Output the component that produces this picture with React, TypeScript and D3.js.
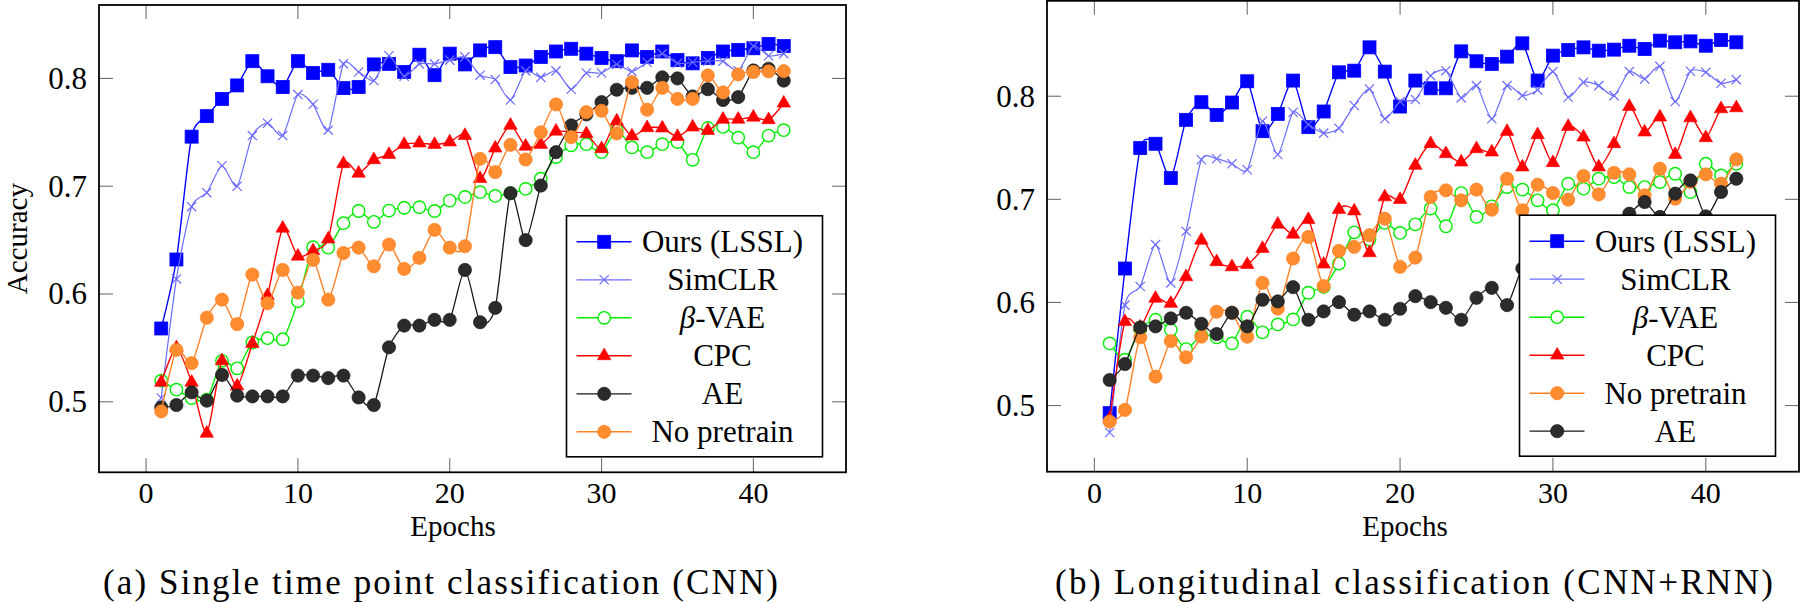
import React from "react";
import * as d3 from "d3";

// ---------- data ----------
const epochs = d3.range(1, 43);
const xTicks = [0, 10, 20, 30, 40];
const xTickLabels = ["0", "10", "20", "30", "40"];
const yTicks = [0.5, 0.6, 0.7, 0.8];
const yTickLabels = ["0.5", "0.6", "0.7", "0.8"];

// (a) Single time point classification (CNN)
const oursA = [0.568,0.632,0.746,0.765,0.781,0.7935,0.816,0.802,0.792,0.816,0.805,0.808,0.791,0.792,0.813,0.8135,0.806,0.822,0.803,0.823,0.813,0.826,0.829,0.8105,0.812,0.82,0.825,0.8275,0.823,0.819,0.816,0.826,0.82,0.825,0.817,0.814,0.819,0.825,0.8265,0.828,0.832,0.83];
const simclrA = [0.5035,0.614,0.681,0.694,0.719,0.70,0.747,0.7585,0.747,0.785,0.776,0.752,0.8135,0.806,0.798,0.821,0.802,0.8135,0.8135,0.817,0.82,0.803,0.799,0.780,0.807,0.801,0.807,0.790,0.805,0.805,0.813,0.8065,0.815,0.823,0.814,0.815,0.816,0.816,0.807,0.83,0.821,0.823];
const vaeA = [0.5196,0.5112,0.5035,0.502,0.538,0.531,0.555,0.559,0.558,0.5933,0.6434,0.643,0.6657,0.677,0.667,0.6774,0.68,0.6805,0.677,0.6867,0.69,0.6945,0.691,0.6935,0.6975,0.707,0.727,0.738,0.739,0.7316,0.752,0.736,0.7316,0.739,0.741,0.7245,0.754,0.755,0.745,0.7316,0.747,0.752];
const cpcA = [0.518,0.55,0.518,0.4707,0.538,0.5145,0.554,0.5985,0.661,0.635,0.64,0.651,0.7208,0.712,0.7245,0.7294,0.7387,0.74,0.7387,0.741,0.747,0.707,0.7353,0.7564,0.737,0.7387,0.751,0.75,0.7486,0.7347,0.7604,0.7465,0.7542,0.7539,0.746,0.7548,0.7517,0.762,0.762,0.764,0.7616,0.777];
const aeA = [0.4948,0.497,0.5088,0.501,0.5249,0.5057,0.505,0.505,0.505,0.5243,0.5243,0.522,0.5243,0.504,0.497,0.5505,0.5707,0.5707,0.576,0.576,0.6223,0.5738,0.5871,0.6935,0.65,0.7006,0.7316,0.7564,0.7666,0.778,0.7895,0.7913,0.7913,0.801,0.80,0.7833,0.79,0.78,0.7827,0.8074,0.809,0.798];
const noPretrainA = [0.4911,0.5482,0.5358,0.578,0.5948,0.572,0.618,0.5914,0.6223,0.6013,0.6316,0.5948,0.638,0.643,0.6257,0.6459,0.6233,0.6335,0.6595,0.643,0.6443,0.7254,0.713,0.7384,0.7248,0.75,0.7759,0.7455,0.7687,0.77,0.749,0.7966,0.771,0.7913,0.781,0.781,0.8028,0.787,0.8037,0.806,0.8065,0.8068];

// (b) Longitudinal classification (CNN+RNN)
const oursB = [0.4926,0.6329,0.7497,0.7539,0.7206,0.7771,0.7942,0.7819,0.7939,0.8145,0.7661,0.7829,0.8152,0.77,0.7852,0.8232,0.8248,0.8474,0.8239,0.79,0.8152,0.8077,0.8077,0.8435,0.8339,0.8313,0.8384,0.8513,0.8152,0.8394,0.8448,0.8474,0.8442,0.8452,0.849,0.8458,0.8539,0.8523,0.8532,0.849,0.8545,0.8523];
const simclrB = [0.4739,0.5974,0.6155,0.6561,0.619,0.669,0.7384,0.7394,0.7345,0.7287,0.7758,0.7435,0.7845,0.7726,0.7642,0.769,0.791,0.8071,0.7781,0.7948,0.7968,0.82,0.8248,0.7984,0.8103,0.7781,0.8103,0.8006,0.8061,0.8239,0.799,0.8135,0.8103,0.8006,0.8239,0.8168,0.829,0.7948,0.8242,0.8232,0.8126,0.8161];
const vaeB = [0.5603,0.5445,0.574,0.5832,0.5735,0.5548,0.5684,0.5661,0.5603,0.5861,0.571,0.5787,0.5835,0.6094,0.615,0.6377,0.668,0.661,0.6771,0.6674,0.6758,0.691,0.6739,0.7061,0.6829,0.6932,0.7119,0.7094,0.699,0.6894,0.7152,0.7103,0.72,0.7216,0.7119,0.7119,0.7168,0.7248,0.7071,0.7345,0.7232,0.7345];
const cpcB = [0.487,0.5813,0.576,0.6039,0.599,0.6248,0.6603,0.6394,0.6345,0.6368,0.6523,0.6758,0.6661,0.6803,0.6371,0.69,0.6887,0.6481,0.7023,0.6997,0.7329,0.7539,0.7442,0.7361,0.749,0.7458,0.7658,0.7313,0.7626,0.7355,0.7706,0.7603,0.7313,0.7539,0.79,0.7652,0.7797,0.7435,0.779,0.7597,0.7877,0.7887];
const noPretrainB = [0.4845,0.4958,0.5661,0.528,0.5626,0.5468,0.5668,0.591,0.59,0.5668,0.619,0.594,0.6426,0.6635,0.6158,0.65,0.6539,0.6652,0.6813,0.6345,0.6435,0.7023,0.7087,0.699,0.7094,0.69,0.72,0.6894,0.7142,0.7061,0.6997,0.7226,0.7048,0.7258,0.7242,0.7039,0.7297,0.7006,0.717,0.7242,0.7152,0.7387];
const aeB = [0.5248,0.5403,0.5758,0.5768,0.5845,0.59,0.5793,0.5694,0.59,0.5768,0.6026,0.601,0.6148,0.5832,0.5913,0.6003,0.5881,0.5913,0.5832,0.5939,0.6061,0.6003,0.5948,0.5832,0.6045,0.6142,0.5974,0.633,0.628,0.64,0.645,0.655,0.66,0.672,0.6861,0.6974,0.6829,0.7055,0.7184,0.6835,0.7071,0.72];

// ---------- styles ----------
const FONT = "'Liberation Serif', 'Times New Roman', serif";
const STY: Record<string, { color: string; fill: string; mark: string; lw: number }> = {
  ours: { color: "#0000ff", fill: "#0000ff", mark: "square", lw: 1.4 },
  sim: { color: "#6b6bff", fill: "none", mark: "cross", lw: 1.2 },
  vae: { color: "#00ee00", fill: "#ffffff", mark: "circleOpen", lw: 1.4 },
  cpc: { color: "#ff0000", fill: "#ff0000", mark: "triangle", lw: 1.4 },
  ae: { color: "#1a1a1a", fill: "#2b2b2b", mark: "circle", lw: 1.3 },
  np: { color: "#ff8125", fill: "#ff8c2e", mark: "circle", lw: 1.4 },
};

type Series = { key: string; label: React.ReactNode; values: number[] };

const panelA: Series[] = [
  { key: "ours", label: "Ours (LSSL)", values: oursA },
  { key: "sim", label: "SimCLR", values: simclrA },
  { key: "vae", label: <><tspan fontStyle="italic">β</tspan>-VAE</>, values: vaeA },
  { key: "cpc", label: "CPC", values: cpcA },
  { key: "ae", label: "AE", values: aeA },
  { key: "np", label: "No pretrain", values: noPretrainA },
];
const panelB: Series[] = [
  { key: "ours", label: "Ours (LSSL)", values: oursB },
  { key: "sim", label: "SimCLR", values: simclrB },
  { key: "vae", label: <><tspan fontStyle="italic">β</tspan>-VAE</>, values: vaeB },
  { key: "cpc", label: "CPC", values: cpcB },
  { key: "np", label: "No pretrain", values: noPretrainB },
  { key: "ae", label: "AE", values: aeB },
];

function Marker({ kind, x, y, color, fill }: { kind: string; x: number; y: number; color: string; fill: string }) {
  if (kind === "square") {
    const s = 13;
    return <rect x={x - s / 2} y={y - s / 2} width={s} height={s} fill={fill} stroke={color} strokeWidth={0.8} />;
  }
  if (kind === "cross") {
    const r = 4.6;
    return (
      <g stroke={color} strokeWidth={1.2}>
        <line x1={x - r} y1={y - r} x2={x + r} y2={y + r} />
        <line x1={x - r} y1={y + r} x2={x + r} y2={y - r} />
      </g>
    );
  }
  if (kind === "circleOpen") {
    return <circle cx={x} cy={y} r={6.2} fill={fill} stroke={color} strokeWidth={1.4} />;
  }
  if (kind === "triangle") {
    const r = 7.8;
    const pts = [
      [x, y - r],
      [x + r * Math.sin(Math.PI / 3), y + r / 2],
      [x - r * Math.sin(Math.PI / 3), y + r / 2],
    ];
    return <polygon points={pts.map((p) => p.join(",")).join(" ")} fill={fill} stroke={color} strokeWidth={0.6} />;
  }
  return <circle cx={x} cy={y} r={6.6} fill={fill} stroke={color} strokeWidth={0.7} />;
}

function Panel({
  series, x0, x1, y0, y1, caption, capX0, capX1, yLabel, epochLabelX,
}: {
  series: Series[]; x0: number; x1: number; y0: number; y1: number; caption: string;
  capX0: number; capX1: number; yLabel?: string; epochLabelX: number;
}) {
  const all = series.flatMap((s) => s.values);
  const lo = d3.min(all)!, hi = d3.max(all)!;
  const padY = (hi - lo) * 0.1;
  const e0 = d3.min(epochs)!, e1 = d3.max(epochs)!;
  const padX = (e1 - e0) * 0.1;
  const xs = d3.scaleLinear().domain([e0 - padX, e1 + padX]).range([x0, x1]);
  const ys = d3.scaleLinear().domain([lo - padY, hi + padY]).range([y1, y0]);
  const line = d3
    .line<number>()
    .x((_, i) => xs(epochs[i]))
    .y((d) => ys(d))
    .curve(d3.curveCardinal.tension(0.3));

  const tickLen = 14;
  const tickColor = "#707070";

  // legend geometry
  const lgW = 256, lgH = 241;
  const lgX = x1 - 23.5 - lgW;
  const lgY = y1 - 15.5 - lgH;
  const rowH = 38;

  return (
    <g>
      {/* ticks */}
      {xTicks.map((t) => (
        <g key={"xt" + t} stroke={tickColor} strokeWidth={1.1}>
          <line x1={xs(t)} x2={xs(t)} y1={y1} y2={y1 - tickLen} />
          <line x1={xs(t)} x2={xs(t)} y1={y0} y2={y0 + tickLen} />
        </g>
      ))}
      {yTicks.map((t) => (
        <g key={"yt" + t} stroke={tickColor} strokeWidth={1.1}>
          <line x1={x0} x2={x0 + tickLen} y1={ys(t)} y2={ys(t)} />
          <line x1={x1} x2={x1 - tickLen} y1={ys(t)} y2={ys(t)} />
        </g>
      ))}
      {/* series */}
      {series.map((s) => {
        const st = STY[s.key];
        return (
          <g key={s.key}>
            <path d={line(s.values) || ""} fill="none" stroke={st.color} strokeWidth={st.lw} />
            {s.values.map((v, i) => (
              <Marker key={i} kind={st.mark} x={xs(epochs[i])} y={ys(v)} color={st.color} fill={st.fill} />
            ))}
          </g>
        );
      })}
      {/* frame */}
      <rect x={x0} y={y0} width={x1 - x0} height={y1 - y0} fill="none" stroke="#000" strokeWidth={1.8} />
      {/* tick labels */}
      {xTicks.map((t, i) => (
        <text key={"xl" + t} x={xs(t)} y={y1 + 31} textAnchor="middle" fontFamily={FONT} fontSize={30} fill="#000">
          {xTickLabels[i]}
        </text>
      ))}
      {yTicks.map((t, i) => (
        <text key={"yl" + t} x={x0 - 12} y={ys(t) + 10.5} textAnchor="end" fontFamily={FONT} fontSize={31} fill="#000">
          {yTickLabels[i]}
        </text>
      ))}
      {/* axis labels */}
      <text x={epochLabelX} y={y1 + 64} textAnchor="middle" fontFamily={FONT} fontSize={29} fill="#000">
        Epochs
      </text>
      {yLabel && (
        <text
          transform={`translate(${x0 - 72},${(y0 + y1) / 2}) rotate(-90)`}
          textAnchor="middle"
          fontFamily={FONT}
          fontSize={29}
          fill="#000"
        >
          {yLabel}
        </text>
      )}
      {/* legend */}
      <rect x={lgX} y={lgY} width={lgW} height={lgH} fill="#fff" stroke="#000" strokeWidth={1.6} />
      {series.map((s, i) => {
        const st = STY[s.key];
        const cy = lgY + 26 + i * rowH;
        return (
          <g key={"lg" + s.key}>
            <line x1={lgX + 10} x2={lgX + 65} y1={cy} y2={cy} stroke={st.color} strokeWidth={st.lw} />
            <Marker kind={st.mark} x={lgX + 37.7} y={cy} color={st.color} fill={st.fill} />
            <text x={lgX + 156} y={cy + 10.5} textAnchor="middle" fontFamily={FONT} fontSize={31} fill="#000">
              {s.label}
            </text>
          </g>
        );
      })}
      {/* caption */}
      <text
        x={capX0}
        y={594}
        fontFamily={FONT}
        fontSize={35}
        fill="#000"
        textLength={capX1 - capX0}
        lengthAdjust="spacing"
      >
        {caption}
      </text>
    </g>
  );
}

export default function App() {
  return (
    <div style={{ position: "absolute", left: 0, top: 0, width: 1800, height: 603, background: "#fff" }}>
      <svg width={1800} height={603} viewBox="0 0 1800 603" style={{ display: "block" }}>
        <rect width={1800} height={603} fill="#fff" />
        <Panel
          series={panelA}
          x0={99}
          x1={846}
          y0={5}
          y1={472.3}
          caption="(a) Single time point classification (CNN)"
          capX0={103}
          capX1={778}
          yLabel="Accuracy"
          epochLabelX={453}
        />
        <Panel
          series={panelB}
          x0={1047}
          x1={1799}
          y0={0.8}
          y1={471.7}
          caption="(b) Longitudinal classification (CNN+RNN)"
          capX0={1055}
          capX1={1773}
          epochLabelX={1405}
        />
      </svg>
    </div>
  );
}
